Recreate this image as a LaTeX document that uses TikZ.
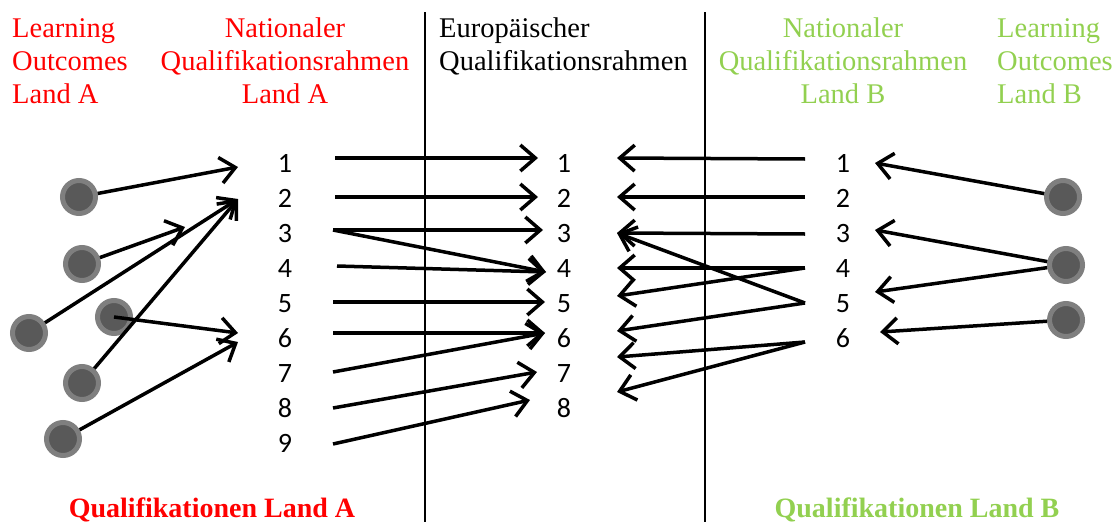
\documentclass[tikz,border=0pt]{standalone}
\usepackage{fontspec}
\setmainfont{Liberation Serif}
\newfontfamily\numfont{Carlito}
\usetikzlibrary{arrows.meta}
\definecolor{redA}{HTML}{FF0000}
\definecolor{greenB}{HTML}{92D050}
\definecolor{dotring}{HTML}{7F7F7F}
\definecolor{dotfill}{HTML}{595959}
\begin{document}
\begin{tikzpicture}[x=1pt,y=-1pt,
  head/.style={inner sep=0pt,font=\fontsize{28.5}{33}\selectfont},
  foot/.style={inner sep=0pt,anchor=base,font=\fontsize{28}{33}\selectfont\bfseries},
  num/.style={inner sep=0pt,anchor=base,font=\numfont\fontsize{28}{30}\selectfont},
  dot/.style={circle,draw=dotring,fill=dotfill,line width=5pt,minimum size=33pt,inner sep=0pt},
  arr/.style={line width=3.5pt,-{Straight Barb[length=15pt,width=26pt]}},
  sep/.style={line width=2pt}]
\useasboundingbox (0,0) rectangle (1115,522);
% separators
\coordinate (v1t) at (425,12); \coordinate (v1b) at (425,522);
\coordinate (v2t) at (705,12); \coordinate (v2b) at (705,522);
\draw[sep] (v1t) -- (v1b);
\draw[sep] (v2t) -- (v2b);
% headers (base anchor = baseline of the last line)
\node[head,text=redA,align=left,anchor=base west] (hLA) at (12,103) {Learning\\Outcomes\\Land A};
\node[head,text=redA,align=center,anchor=base] (hNA) at (285,103) {Nationaler\\Qualifikationsrahmen\\Land A};
\node[head,align=left,anchor=base west] (hEU) at (439,70) {Europäischer\\Qualifikationsrahmen};
\node[head,text=greenB,align=center,anchor=base] (hNB) at (843,103) {Nationaler\\Qualifikationsrahmen\\Land B};
\node[head,text=greenB,align=left,anchor=base west] (hLB) at (997,103) {Learning\\Outcomes\\Land B};
% footers
\node[foot,text=redA] (fA) at (212,517) {Qualifikationen Land A};
\node[foot,text=greenB] (fB) at (917,517) {Qualifikationen Land B};
% numbers
\foreach \i in {1,...,9} \node[num] (a\i) at (285,{172+35*(\i-1)}) {\i};
\foreach \i in {1,...,8} \node[num] (e\i) at (564,{172+35*(\i-1)}) {\i};
\foreach \i in {1,...,6} \node[num] (b\i) at (843,{172+35*(\i-1)}) {\i};
% dots
\node[dot] (dA1) at (79,197) {};
\node[dot] (dA2) at (82,264) {};
\node[dot] (dA3) at (29,333) {};
\node[dot] (dA4) at (114,317) {};
\node[dot] (dA5) at (82,383) {};
\node[dot] (dA6) at (63,439) {};
\node[dot] (dB1) at (1063,197) {};
\node[dot] (dB2) at (1066,265) {};
\node[dot] (dB3) at (1066,320) {};
% arrow end points, land A learning outcomes
\coordinate (pA1) at (238,167);
\coordinate (pA2) at (185,227);
\coordinate (pA3) at (238,199);
\coordinate (pA6) at (238,333);
\coordinate (pA6b) at (238,342);
\draw[arr] (dA1) -- (pA1);
\draw[arr] (dA2) -- (pA2);
\draw[arr] (dA3) -- (pA3);
\draw[arr] (dA4.center) -- (pA6);
\draw[arr] (dA5) -- (pA3);
\draw[arr] (dA6) -- (pA6b);
% land B learning outcomes
\coordinate (pB1) at (875,163);
\coordinate (pB3) at (875,230);
\coordinate (pB5) at (875,292);
\coordinate (pB6) at (880,332);
\draw[arr] (dB1) -- (pB1);
\draw[arr] (dB2) -- (pB3);
\draw[arr] (dB2) -- (pB5);
\draw[arr] (dB3) -- (pB6);
% land A -> EQR
\coordinate (s1) at (335,158); \coordinate (t1) at (538,158);
\coordinate (s2) at (335,197); \coordinate (t2) at (538,197);
\coordinate (s3) at (333,230); \coordinate (t3) at (543,230);
\coordinate (s4) at (337,266); \coordinate (t4) at (546,272);
\coordinate (s5) at (333,302); \coordinate (t5) at (545,302);
\coordinate (s6) at (333,333); \coordinate (t6) at (545,333);
\coordinate (s7) at (333,372); \coordinate (t7) at (537,372);
\coordinate (s8) at (333,408); \coordinate (t8) at (530,400);
\coordinate (s9) at (333,444);
\draw[arr] (s1) -- (t1);
\draw[arr] (s2) -- (t2);
\draw[arr] (s3) -- (t3);
\draw[arr] (s3) -- (t4);
\draw[arr] (s4) -- (t4);
\draw[arr] (s5) -- (t5);
\draw[arr] (s6) -- (t6);
\draw[arr] (s7) -- (t6);
\draw[arr] (s8) -- (t7);
\draw[arr] (s9) -- (t8);
% land B -> EQR
\coordinate (r1) at (805,159); \coordinate (m1) at (617,158);
\coordinate (r2) at (805,197); \coordinate (m2) at (617,197);
\coordinate (r3) at (805,234); \coordinate (m3) at (617,233);
\coordinate (r4) at (805,268); \coordinate (m4) at (617,268);
\coordinate (r5) at (805,303); \coordinate (m45) at (617,296);
\coordinate (r6) at (805,342); \coordinate (m56) at (617,331);
\coordinate (m67) at (617,357); \coordinate (m78) at (617,392);
\draw[arr] (r1) -- (m1);
\draw[arr] (r2) -- (m2);
\draw[arr] (r3) -- (m3);
\draw[arr] (r5) -- (m3);
\draw[arr] (r4) -- (m4);
\draw[arr] (r4) -- (m45);
\draw[arr] (r5) -- (m56);
\draw[arr] (r6) -- (m67);
\draw[arr] (r6) -- (m78);
\end{tikzpicture}
\end{document}
